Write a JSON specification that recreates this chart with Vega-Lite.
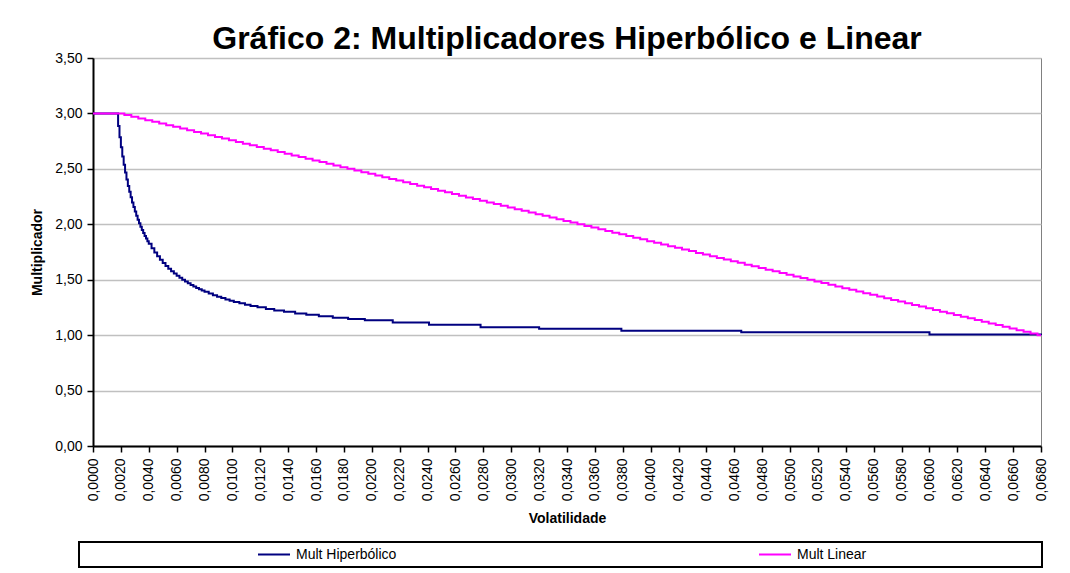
{
  "$schema": "https://vega.github.io/schema/vega-lite/v6.json",
  "width": 948,
  "height": 388,
  "autosize": {"type": "none"},
  "padding": {"left": 93, "top": 58, "right": 29, "bottom": 127},
  "background": "white",
  "title": {"text": "Gráfico 2: Multiplicadores Hiperbólico e Linear", "font": "Liberation Sans", "fontSize": 32, "fontWeight": "bold", "color": "black", "anchor": "middle", "offset": -5},
  "datasets": {
    "hip": [
      {"v": 0, "m": 3.0}, {"v": 0.0017, "m": 3.0}, {"v": 0.0018, "m": 2.887}, {"v": 0.0019, "m": 2.785}, {"v": 0.002, "m": 2.694},
      {"v": 0.0021, "m": 2.611}, {"v": 0.0022, "m": 2.536}, {"v": 0.0023, "m": 2.467}, {"v": 0.0024, "m": 2.404}, {"v": 0.0025, "m": 2.346},
      {"v": 0.0026, "m": 2.293}, {"v": 0.0027, "m": 2.243}, {"v": 0.0028, "m": 2.197}, {"v": 0.0029, "m": 2.155}, {"v": 0.003, "m": 2.115},
      {"v": 0.0031, "m": 2.077}, {"v": 0.0032, "m": 2.042}, {"v": 0.0033, "m": 2.009}, {"v": 0.0034, "m": 1.978}, {"v": 0.0035, "m": 1.949},
      {"v": 0.0036, "m": 1.922}, {"v": 0.0037, "m": 1.895}, {"v": 0.0038, "m": 1.871}, {"v": 0.0039, "m": 1.847}, {"v": 0.004, "m": 1.825},
      {"v": 0.0042, "m": 1.784}, {"v": 0.0044, "m": 1.746}, {"v": 0.0046, "m": 1.712}, {"v": 0.0048, "m": 1.68}, {"v": 0.005, "m": 1.651},
      {"v": 0.0052, "m": 1.624}, {"v": 0.0054, "m": 1.6}, {"v": 0.0056, "m": 1.577}, {"v": 0.0058, "m": 1.555}, {"v": 0.006, "m": 1.535},
      {"v": 0.0062, "m": 1.517}, {"v": 0.0064, "m": 1.499}, {"v": 0.0066, "m": 1.483}, {"v": 0.0068, "m": 1.467}, {"v": 0.007, "m": 1.453},
      {"v": 0.0072, "m": 1.439}, {"v": 0.0074, "m": 1.426}, {"v": 0.0076, "m": 1.413}, {"v": 0.0078, "m": 1.402}, {"v": 0.008, "m": 1.391},
      {"v": 0.0083, "m": 1.375}, {"v": 0.0086, "m": 1.36}, {"v": 0.0089, "m": 1.347}, {"v": 0.0092, "m": 1.334}, {"v": 0.0095, "m": 1.322},
      {"v": 0.0098, "m": 1.311}, {"v": 0.0101, "m": 1.3}, {"v": 0.0105, "m": 1.287}, {"v": 0.0109, "m": 1.275}, {"v": 0.0113, "m": 1.264},
      {"v": 0.0118, "m": 1.251}, {"v": 0.0124, "m": 1.236}, {"v": 0.013, "m": 1.223}, {"v": 0.0137, "m": 1.21}, {"v": 0.0145, "m": 1.196},
      {"v": 0.0153, "m": 1.183}, {"v": 0.0162, "m": 1.171}, {"v": 0.0172, "m": 1.158}, {"v": 0.0183, "m": 1.146}, {"v": 0.0195, "m": 1.134},
      {"v": 0.0215, "m": 1.115}, {"v": 0.0241, "m": 1.093}, {"v": 0.0278, "m": 1.072}, {"v": 0.032, "m": 1.057}, {"v": 0.0379, "m": 1.039},
      {"v": 0.0465, "m": 1.027}, {"v": 0.06, "m": 1.005}, {"v": 0.068, "m": 1.0}
    ],
    "lin": [
      {"v": 0, "m": 3.0}, {"v": 0.002, "m": 3.0}, {"v": 0.0025, "m": 2.985}, {"v": 0.003, "m": 2.97}, {"v": 0.0035, "m": 2.955},
      {"v": 0.004, "m": 2.939}, {"v": 0.0045, "m": 2.924}, {"v": 0.005, "m": 2.909}, {"v": 0.0055, "m": 2.894}, {"v": 0.006, "m": 2.879},
      {"v": 0.0065, "m": 2.864}, {"v": 0.007, "m": 2.848}, {"v": 0.0075, "m": 2.833}, {"v": 0.008, "m": 2.818}, {"v": 0.0085, "m": 2.803},
      {"v": 0.009, "m": 2.788}, {"v": 0.0095, "m": 2.773}, {"v": 0.01, "m": 2.758}, {"v": 0.0105, "m": 2.742}, {"v": 0.011, "m": 2.727},
      {"v": 0.0115, "m": 2.712}, {"v": 0.012, "m": 2.697}, {"v": 0.0125, "m": 2.682}, {"v": 0.013, "m": 2.667}, {"v": 0.0135, "m": 2.652},
      {"v": 0.014, "m": 2.636}, {"v": 0.0145, "m": 2.621}, {"v": 0.015, "m": 2.606}, {"v": 0.0155, "m": 2.591}, {"v": 0.016, "m": 2.576},
      {"v": 0.0165, "m": 2.561}, {"v": 0.017, "m": 2.545}, {"v": 0.0175, "m": 2.53}, {"v": 0.018, "m": 2.515}, {"v": 0.0185, "m": 2.5},
      {"v": 0.019, "m": 2.485}, {"v": 0.0195, "m": 2.47}, {"v": 0.02, "m": 2.455}, {"v": 0.0205, "m": 2.439}, {"v": 0.021, "m": 2.424},
      {"v": 0.0215, "m": 2.409}, {"v": 0.022, "m": 2.394}, {"v": 0.0225, "m": 2.379}, {"v": 0.023, "m": 2.364}, {"v": 0.0235, "m": 2.348},
      {"v": 0.024, "m": 2.333}, {"v": 0.0245, "m": 2.318}, {"v": 0.025, "m": 2.303}, {"v": 0.0255, "m": 2.288}, {"v": 0.026, "m": 2.273},
      {"v": 0.0265, "m": 2.258}, {"v": 0.027, "m": 2.242}, {"v": 0.0275, "m": 2.227}, {"v": 0.028, "m": 2.212}, {"v": 0.0285, "m": 2.197},
      {"v": 0.029, "m": 2.182}, {"v": 0.0295, "m": 2.167}, {"v": 0.03, "m": 2.152}, {"v": 0.0305, "m": 2.136}, {"v": 0.031, "m": 2.121},
      {"v": 0.0315, "m": 2.106}, {"v": 0.032, "m": 2.091}, {"v": 0.0325, "m": 2.076}, {"v": 0.033, "m": 2.061}, {"v": 0.0335, "m": 2.045},
      {"v": 0.034, "m": 2.03}, {"v": 0.0345, "m": 2.015}, {"v": 0.035, "m": 2.0}, {"v": 0.0355, "m": 1.985}, {"v": 0.036, "m": 1.97},
      {"v": 0.0365, "m": 1.955}, {"v": 0.037, "m": 1.939}, {"v": 0.0375, "m": 1.924}, {"v": 0.038, "m": 1.909}, {"v": 0.0385, "m": 1.894},
      {"v": 0.039, "m": 1.879}, {"v": 0.0395, "m": 1.864}, {"v": 0.04, "m": 1.848}, {"v": 0.0405, "m": 1.833}, {"v": 0.041, "m": 1.818},
      {"v": 0.0415, "m": 1.803}, {"v": 0.042, "m": 1.788}, {"v": 0.0425, "m": 1.773}, {"v": 0.043, "m": 1.758}, {"v": 0.0435, "m": 1.742},
      {"v": 0.044, "m": 1.727}, {"v": 0.0445, "m": 1.712}, {"v": 0.045, "m": 1.697}, {"v": 0.0455, "m": 1.682}, {"v": 0.046, "m": 1.667},
      {"v": 0.0465, "m": 1.652}, {"v": 0.047, "m": 1.636}, {"v": 0.0475, "m": 1.621}, {"v": 0.048, "m": 1.606}, {"v": 0.0485, "m": 1.591},
      {"v": 0.049, "m": 1.576}, {"v": 0.0495, "m": 1.561}, {"v": 0.05, "m": 1.545}, {"v": 0.0505, "m": 1.53}, {"v": 0.051, "m": 1.515},
      {"v": 0.0515, "m": 1.5}, {"v": 0.052, "m": 1.485}, {"v": 0.0525, "m": 1.47}, {"v": 0.053, "m": 1.455}, {"v": 0.0535, "m": 1.439},
      {"v": 0.054, "m": 1.424}, {"v": 0.0545, "m": 1.409}, {"v": 0.055, "m": 1.394}, {"v": 0.0555, "m": 1.379}, {"v": 0.056, "m": 1.364},
      {"v": 0.0565, "m": 1.348}, {"v": 0.057, "m": 1.333}, {"v": 0.0575, "m": 1.318}, {"v": 0.058, "m": 1.303}, {"v": 0.0585, "m": 1.288},
      {"v": 0.059, "m": 1.273}, {"v": 0.0595, "m": 1.258}, {"v": 0.06, "m": 1.242}, {"v": 0.0605, "m": 1.227}, {"v": 0.061, "m": 1.212},
      {"v": 0.0615, "m": 1.197}, {"v": 0.062, "m": 1.182}, {"v": 0.0625, "m": 1.167}, {"v": 0.063, "m": 1.152}, {"v": 0.0635, "m": 1.136},
      {"v": 0.064, "m": 1.121}, {"v": 0.0645, "m": 1.106}, {"v": 0.065, "m": 1.091}, {"v": 0.0655, "m": 1.076}, {"v": 0.066, "m": 1.061},
      {"v": 0.0665, "m": 1.045}, {"v": 0.067, "m": 1.03}, {"v": 0.0675, "m": 1.015}, {"v": 0.068, "m": 1.0}
    ]
  },
  "encoding": {
    "x": {
      "field": "v", "type": "quantitative",
      "scale": {"domain": [0, 0.068], "nice": false, "zero": false},
      "axis": {
        "values": [0, 0.002, 0.004, 0.006, 0.008, 0.01, 0.012, 0.014, 0.016, 0.018, 0.02, 0.022, 0.024, 0.026, 0.028, 0.03, 0.032, 0.034, 0.036, 0.038, 0.04, 0.042, 0.044, 0.046, 0.048, 0.05, 0.052, 0.054, 0.056, 0.058, 0.06, 0.062, 0.064, 0.066, 0.068],
        "labelExpr": "replace(format(datum.value, '.4f'), '.', ',')",
        "labelAngle": -90, "labelFontSize": 14, "labelColor": "black", "labelPadding": 6,
        "labelOverlap": false, "labelFlush": false, "labelBound": false,
        "tickSize": 6, "tickColor": "black", "tickWidth": 1.5,
        "domainColor": "black", "domainWidth": 2, "grid": false,
        "title": "Volatilidade", "titleFontSize": 14, "titleFontWeight": "bold", "titleColor": "black", "titlePadding": 11
      }
    },
    "y": {
      "field": "m", "type": "quantitative",
      "scale": {"domain": [0, 3.5], "nice": false},
      "axis": {
        "values": [0, 0.5, 1, 1.5, 2, 2.5, 3, 3.5],
        "labelExpr": "replace(format(datum.value, '.2f'), '.', ',')",
        "labelFontSize": 14, "labelColor": "black", "labelPadding": 5,
        "tickSize": 6, "tickColor": "black", "tickWidth": 1.5,
        "domainColor": "black", "domainWidth": 2,
        "grid": true, "gridColor": "#c0c0c0", "gridWidth": 1.5,
        "title": "Multiplicador", "titleFontSize": 14, "titleFontWeight": "bold", "titleColor": "black", "titlePadding": 10
      }
    }
  },
  "layer": [
    {
      "data": {"name": "hip"},
      "mark": {"type": "line", "interpolate": "step-after", "strokeWidth": 2},
      "encoding": {
        "color": {
          "datum": "Mult Hiperbólico", "type": "nominal",
          "scale": {"domain": ["Mult Hiperbólico", "Mult Linear"], "range": ["#000080", "#ff00ff"]},
          "legend": {
            "orient": "none", "legendX": -14, "legendY": 484, "direction": "horizontal",
            "title": "\u00a0", "titleOrient": "right", "titlePadding": 172, "titleFontSize": 6,
            "symbolType": "stroke", "symbolSize": 1024, "symbolStrokeWidth": 2, "symbolOffset": 174,
            "columnPadding": 187, "labelFontSize": 14, "labelColor": "black", "labelOffset": 5, "labelLimit": 300,
            "padding": 4, "strokeColor": "black", "clipHeight": 17
          }
        }
      }
    },
    {
      "data": {"name": "lin"},
      "mark": {"type": "line", "interpolate": "step", "strokeWidth": 2},
      "encoding": {
        "color": {"datum": "Mult Linear", "type": "nominal"}
      }
    }
  ],
  "config": {
    "font": "Liberation Sans",
    "view": {"stroke": "#808080", "strokeWidth": 1},
    "legend": {"strokeWidth": 2}
  }
}
